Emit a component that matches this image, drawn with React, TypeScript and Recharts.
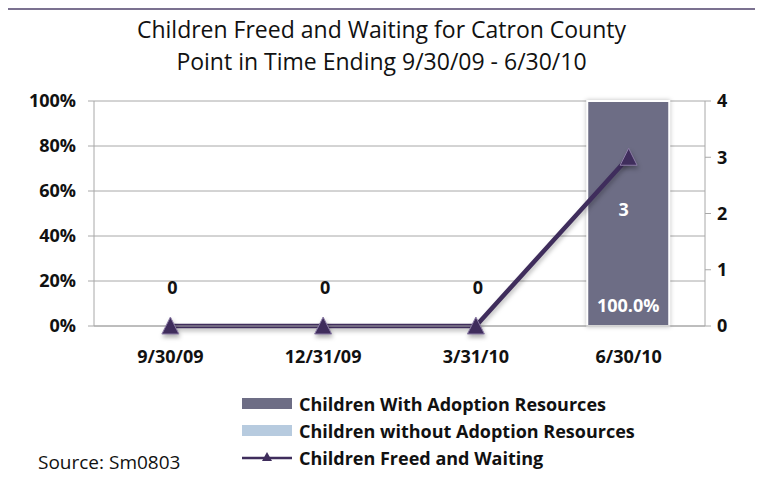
import { Bar, CartesianGrid, ComposedChart, LabelList, Line, XAxis, YAxis } from 'recharts'

const categories = ['9/30/09', '12/31/09', '3/31/10', '6/30/10']
const withResources = [0, 0, 0, 1]
const withoutResources = [0, 0, 0, 0]
const freedWaiting = [0, 0, 0, 3]
const leftTicks = [0, 0.2, 0.4, 0.6, 0.8, 1]
const rightTicks = [0, 1, 2, 3, 4]

const FONT = '"Open Sans", Lato, sans-serif'
const BAR_DARK = '#6d6d85'
const BAR_LIGHT = '#b7cbdf'
const LINE = '#3f2d5c'
const FRAME = '#7b7190'

const data = categories.map((date, i) => ({
  date,
  withResources: withResources[i],
  withoutResources: withoutResources[i],
  freedWaiting: freedWaiting[i],
}))

const legendItems = [
  { name: 'Children With Adoption Resources', kind: 'bar', color: BAR_DARK },
  { name: 'Children without Adoption Resources', kind: 'bar', color: BAR_LIGHT },
  { name: 'Children Freed and Waiting', kind: 'line', color: LINE },
]

const tickStyle = { fontSize: 18, fontWeight: 700, fill: '#111', fontFamily: FONT }

function Triangle(props: any) {
  const { cx, cy } = props
  if (cx == null || cy == null) return null
  return (
    <path
      d={`M${cx},${cy - 9} L${cx + 8.5},${cy + 8} L${cx - 8.5},${cy + 8} Z`}
      fill={LINE}
      stroke="#8c7ca6"
      strokeWidth={1}
      style={{ filter: 'drop-shadow(1px 3px 2px rgba(0,0,0,0.3))' }}
    />
  )
}

function LineLabel(props: any) {
  const { x, y, value } = props
  if (x == null || y == null) return null
  const up = Number(value) === 0
  return (
    <text
      x={up ? x + 2 : x - 5}
      y={up ? y - 39 : y + 52}
      textAnchor="middle"
      dominantBaseline="central"
      fontFamily={FONT}
      fontWeight={700}
      fontSize={18}
      fill={up ? '#111' : '#fff'}
    >
      {value}
    </text>
  )
}

export default function App() {
  return (
    <div style={{ position: 'relative', width: 763, height: 485, margin: -8, background: '#fff', overflow: 'hidden', fontFamily: FONT }}>
      <div
        style={{
          position: 'absolute', left: 2, top: 6, width: 780, height: 500,
          borderTop: `4px solid ${FRAME}`, borderLeft: `3px solid ${FRAME}`,
        }}
      />
      <div style={{ position: 'absolute', left: 0, top: 13, width: 763, textAlign: 'center', fontSize: 23, lineHeight: '32px', color: '#111' }}>
        Children Freed and Waiting for Catron County
        <br />
        Point in Time Ending 9/30/09 - 6/30/10
      </div>

      <div style={{ position: 'absolute', left: 0, top: 0 }}>
        <ComposedChart width={763} height={485} data={data} margin={{ top: 101, right: 0, bottom: 129, left: 0 }} barCategoryGap={0}>
          <CartesianGrid stroke="#a8a8a8" vertical={false} yAxisId="pct" />
          <XAxis
            dataKey="date"
            tickLine={false}
            tickMargin={18}
            height={30}
            axisLine={{ stroke: '#a8a8a8' }}
            tick={tickStyle}
          />
          <YAxis
            yAxisId="pct"
            domain={[0, 1]}
            ticks={leftTicks}
            tickFormatter={(v) => `${Math.round(Number(v) * 100)}%`}
            width={94}
            tickSize={6}
            tickMargin={12}
            axisLine={{ stroke: '#a8a8a8' }}
            tickLine={{ stroke: '#a8a8a8' }}
            tick={tickStyle}
          />
          <YAxis
            yAxisId="count"
            orientation="right"
            domain={[0, 4]}
            ticks={rightTicks}
            width={58}
            tickSize={6}
            tickMargin={6}
            axisLine={{ stroke: '#a8a8a8' }}
            tickLine={{ stroke: '#a8a8a8' }}
            tick={tickStyle}
          />
          <Bar
            yAxisId="pct"
            dataKey="withResources"
            name="Children With Adoption Resources"
            stackId="a"
            fill={BAR_DARK}
            stroke="#fff"
            strokeWidth={2}
            barSize={82}
            style={{ filter: 'drop-shadow(0px 0px 2px rgba(0,0,0,0.25))' }}
            isAnimationActive={false}
          >
            <LabelList
              dataKey="withResources"
              position="insideBottom"
              offset={14}
              formatter={(v: any) => (Number(v) > 0 ? `${(Number(v) * 100).toFixed(1)}%` : '')}
              fill="#fff"
              fontSize={18}
              fontWeight={700}
              fontFamily={FONT}
            />
          </Bar>
          <Bar
            yAxisId="pct"
            dataKey="withoutResources"
            name="Children without Adoption Resources"
            stackId="a"
            fill={BAR_LIGHT}
            barSize={82}
            isAnimationActive={false}
          />
          <Line
            yAxisId="count"
            dataKey="freedWaiting"
            name="Children Freed and Waiting"
            type="linear"
            stroke={LINE}
            strokeWidth={4.5}
            dot={<Triangle />}
            activeDot={false}
            style={{ filter: 'drop-shadow(1px 3px 2px rgba(0,0,0,0.25))' }}
            isAnimationActive={false}
          >
            <LabelList dataKey="freedWaiting" content={<LineLabel />} />
          </Line>
        </ComposedChart>
      </div>

      <div style={{ position: 'absolute', left: 242, top: 390 }}>
        {legendItems.map((item) => (
          <div key={item.name} style={{ display: 'flex', alignItems: 'center', height: 27 }}>
            <svg width={52} height={20} style={{ marginRight: 5 }}>
              {item.kind === 'bar' ? (
                <rect x={0} y={4} width={50} height={11} fill={item.color} />
              ) : (
                <g>
                  <line x1={0} y1={10} x2={50} y2={10} stroke={item.color} strokeWidth={2.5} />
                  <path d="M25,4 L30,13 L20,13 Z" fill={item.color} />
                </g>
              )}
            </svg>
            <span style={{ fontSize: 18, fontWeight: 700, color: '#111' }}>{item.name}</span>
          </div>
        ))}
      </div>

      <div style={{ position: 'absolute', left: 38, top: 449, fontSize: 19, color: '#111' }}>Source: Sm0803</div>
    </div>
  )
}
